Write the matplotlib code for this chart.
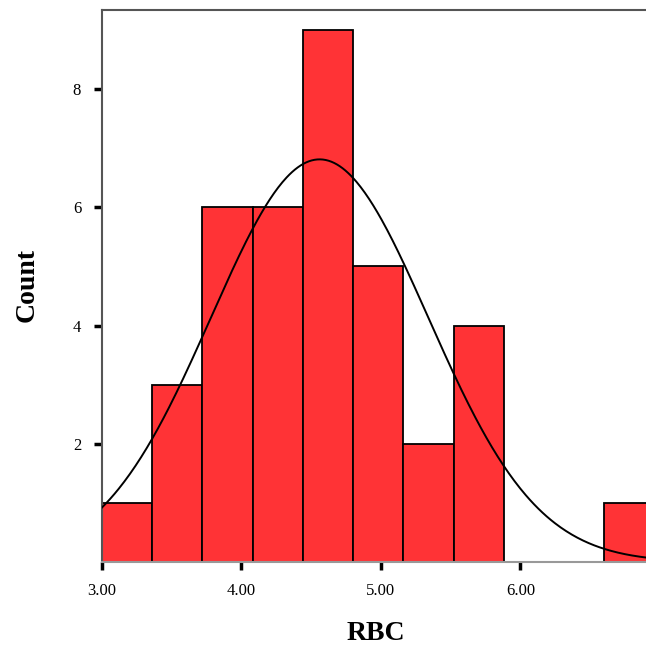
import numpy as np
import matplotlib
matplotlib.use("Agg")
import matplotlib.pyplot as plt

# RBC histogram (SPSS style) with fitted normal curve
bin_start = 3.00
bin_width = 0.36
counts = [1, 3, 6, 6, 9, 5, 2, 4, 0, 0, 1]
rbc_mean = 4.56
rbc_sd = 0.78

x_ticks = [3.0, 4.0, 5.0, 6.0]
y_ticks = [2, 4, 6, 8]

plt.rcParams['font.family'] = ['Liberation Serif', 'DejaVu Serif']

fig = plt.figure(figsize=(6.46, 6.53), dpi=100)
ax = fig.add_axes([102 / 646, 1 - 562 / 653, 1 - 102 / 646, (562 - 10) / 653])

edges = bin_start + bin_width * np.arange(len(counts) + 1)
ax.bar(edges[:-1], counts, width=bin_width, align='edge',
       color='#ff3336', edgecolor='black', linewidth=1.3, zorder=2)

n = sum(counts)
xs = np.linspace(3.0, 7.0, 400)
ys = n * bin_width * np.exp(-0.5 * ((xs - rbc_mean) / rbc_sd) ** 2) / (rbc_sd * np.sqrt(2 * np.pi))
ax.plot(xs, ys, color='black', linewidth=1.4, zorder=3)

ax.set_xlim(3.0, 6.90)
ax.set_ylim(0, 9.34)
ax.set_xticks(x_ticks)
ax.set_xticklabels([f"{t:.2f}" for t in x_ticks])
ax.set_yticks(y_ticks)
ax.tick_params(axis='both', direction='out', length=6, width=2.5,
               color='black', labelsize=12, pad=9)

for side in ('left', 'top', 'bottom'):
    ax.spines[side].set_color('#555555')
    ax.spines[side].set_linewidth(1.5)
ax.spines['bottom'].set_color('#999999')
ax.spines['right'].set_visible(False)

ax.set_xlabel('RBC', fontsize=20, fontweight='bold')
ax.set_ylabel('Count', fontsize=20, fontweight='bold')
ax.xaxis.set_label_coords((376 - 102) / 544, (562 - 633) / 552)
ax.yaxis.set_label_coords((27 - 102) / 544, (562 - 285) / 552)
ax.xaxis.label.set_va('center')
ax.yaxis.label.set_va('center')

fig.savefig('out.png', dpi=100)
